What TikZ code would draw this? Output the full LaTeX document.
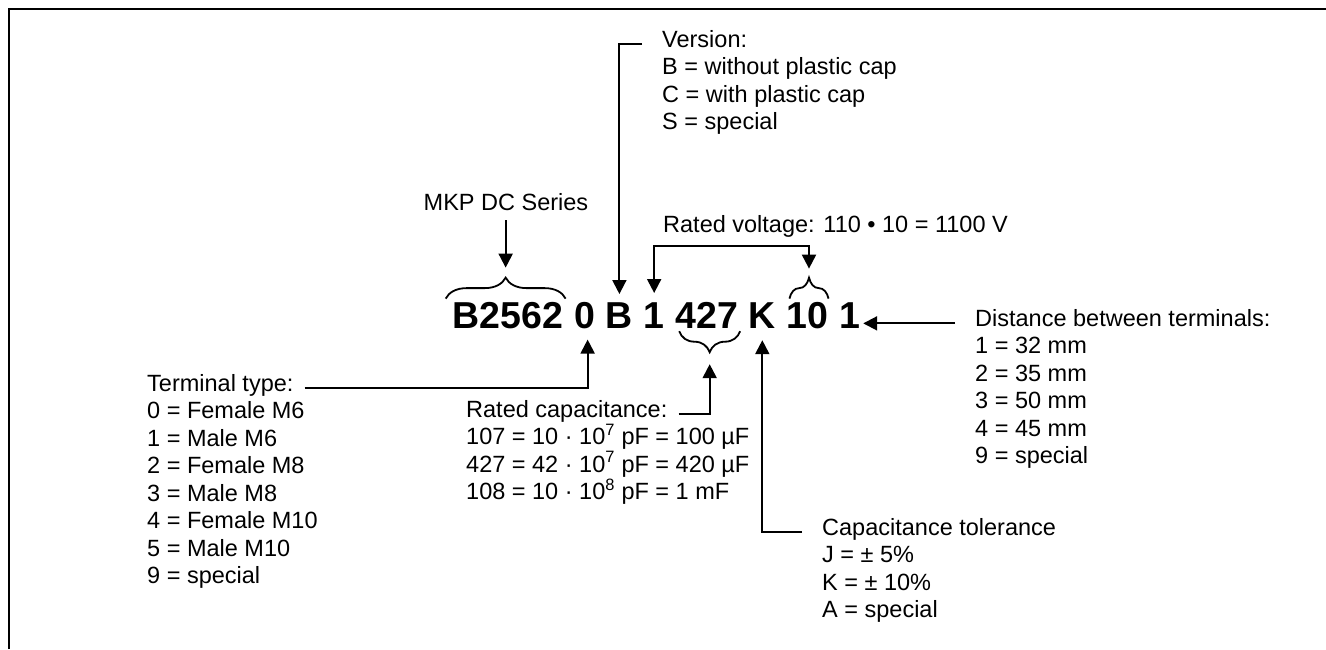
\documentclass[tikz,border=0pt]{standalone}
\usepackage{fontspec}
\setmainfont{Liberation Sans}
\usetikzlibrary{arrows.meta,positioning,calc,decorations.pathreplacing}

\begin{document}
\begin{tikzpicture}[x=1pt,y=-1pt]
\tikzstyle{every node}+=[inner sep=0pt]
\tikzstyle{lbl}=[font=\fontsize{23.5}{27.5}\selectfont,anchor=base west]
\tikzstyle{code}=[font=\fontsize{37.5}{40}\selectfont\bfseries]
\tikzstyle{arr}=[line width=2pt,-{Triangle[length=14pt,width=14pt]}]
\tikzstyle{dblarr}=[line width=2pt,{Triangle[length=14pt,width=14pt]}-{Triangle[length=14pt,width=14pt]}]
\tikzstyle{brc}=[line width=1.8pt,decorate,decoration={brace,amplitude=21pt,raise=3pt}]
\useasboundingbox (0,0) rectangle (1326,649);
\draw [line width=2pt] (8.5,649) -- (8.5,8.5) -- (1326,8.5);
\node [code,anchor=base west] (series) at (452.7,328) {B2562};
\node [code,base right=10.4pt of series] (term) {0};
\node [code,base right=10.4pt of term] (ver) {B};
\node [code,base right=10.4pt of ver] (volt) {1};
\node [code,base right=10.4pt of volt] (cap) {427};
\node [code,base right=10.4pt of cap] (tol) {K};
\node [code,base right=10.4pt of tol] (mult) {10};
\node [code,base right=10.4pt of mult] (dist) {1};
\node [lbl,anchor=base] (serieslbl) at (506,210) {MKP DC Series};
\node [lbl] (verhead) at (662,47) {Version:};
\node [lbl] (ver1) at ($(verhead.base west)+(0,27.5)$) {B = without plastic cap};
\node [lbl] (ver2) at ($(ver1.base west)+(0,27.5)$) {C = with plastic cap};
\node [lbl] (ver3) at ($(ver2.base west)+(0,27.5)$) {S = special};
\node [lbl] (voltlbl) at (663,232) {Rated voltage: 110 • 10 = 1100 V};
\node [lbl] (termhead) at (147,391) {Terminal type:};
\node [lbl] (term1) at ($(termhead.base west)+(0,27.5)$) {0 = Female M6};
\node [lbl] (term2) at ($(term1.base west)+(0,27.5)$) {1 = Male M6};
\node [lbl] (term3) at ($(term2.base west)+(0,27.5)$) {2 = Female M8};
\node [lbl] (term4) at ($(term3.base west)+(0,27.5)$) {3 = Male M8};
\node [lbl] (term5) at ($(term4.base west)+(0,27.5)$) {4 = Female M10};
\node [lbl] (term6) at ($(term5.base west)+(0,27.5)$) {5 = Male M10};
\node [lbl] (term7) at ($(term6.base west)+(0,27.5)$) {9 = special};
\node [lbl] (caphead) at (466,417) {Rated capacitance:};
\node [lbl] (cap1) at ($(caphead.base west)+(0,27.5)$) {107 = 10 · 10\textsuperscript{7} pF = 100 µF};
\node [lbl] (cap2) at ($(cap1.base west)+(0,27.5)$) {427 = 42 · 10\textsuperscript{7} pF = 420 µF};
\node [lbl] (cap3) at ($(cap2.base west)+(0,27.5)$) {108 = 10 · 10\textsuperscript{8} pF = 1 mF};
\node [lbl] (tolhead) at (822,535) {Capacitance tolerance};
\node [lbl] (tol1) at ($(tolhead.base west)+(0,27.5)$) {J = ± 5\%};
\node [lbl] (tol2) at ($(tol1.base west)+(0,27.5)$) {K = ± 10\%};
\node [lbl] (tol3) at ($(tol2.base west)+(0,27.5)$) {A = special};
\node [lbl] (disthead) at (975,326) {Distance between terminals:};
\node [lbl] (dist1) at ($(disthead.base west)+(0,27.5)$) {1 = 32 mm};
\node [lbl] (dist2) at ($(dist1.base west)+(0,27.5)$) {2 = 35 mm};
\node [lbl] (dist3) at ($(dist2.base west)+(0,27.5)$) {3 = 50 mm};
\node [lbl] (dist4) at ($(dist3.base west)+(0,27.5)$) {4 = 45 mm};
\node [lbl] (dist5) at ($(dist4.base west)+(0,27.5)$) {9 = special};
\coordinate (sbl) at ([xshift=-7pt]series.north west);
\coordinate (sbr) at ([xshift=2pt]series.north east);
\draw [brc] (sbl) -- (sbr);
\coordinate (sbt) at ($(sbl)!.5!(sbr)+(0,-24)$);
\coordinate (mbl) at ([xshift=3pt]mult.north west);
\coordinate (mbr) at (mult.north east);
\draw [brc] (mbl) -- (mbr);
\coordinate (mbt) at ($(mbl)!.5!(mbr)+(0,-24)$);
\coordinate (cbl) at ([xshift=4pt]cap.south west);
\coordinate (cbr) at ([xshift=2pt]cap.south east);
\draw [brc] (cbr) -- (cbl);
\coordinate (cbt) at ($(cbl)!.5!(cbr)+(0,24)$);
\draw [arr,shorten <=10pt,shorten >=10pt] (sbt |- serieslbl.south) -- (sbt);
\draw [arr,shorten <=20pt,shorten >=8pt] (verhead.mid west) -| (ver.north);
\draw [dblarr,shorten <=9pt,shorten >=9pt] (volt.north) -- ++(0,-56) -| (mbt);
\draw [arr,shorten <=11pt,shorten >=11pt] (termhead.mid east) -| ([xshift=3pt]term.south);
\draw [arr,shorten <=11pt,shorten >=12pt] (caphead.mid east) -| (cbt);
\draw [arr,shorten <=20pt,shorten >=12pt] (tolhead.mid west) -| (tol.south);
\draw [arr,shorten <=20pt,shorten >=3pt] (disthead.mid west) -- (disthead.mid west -| dist.east);
\end{tikzpicture}
\end{document}
